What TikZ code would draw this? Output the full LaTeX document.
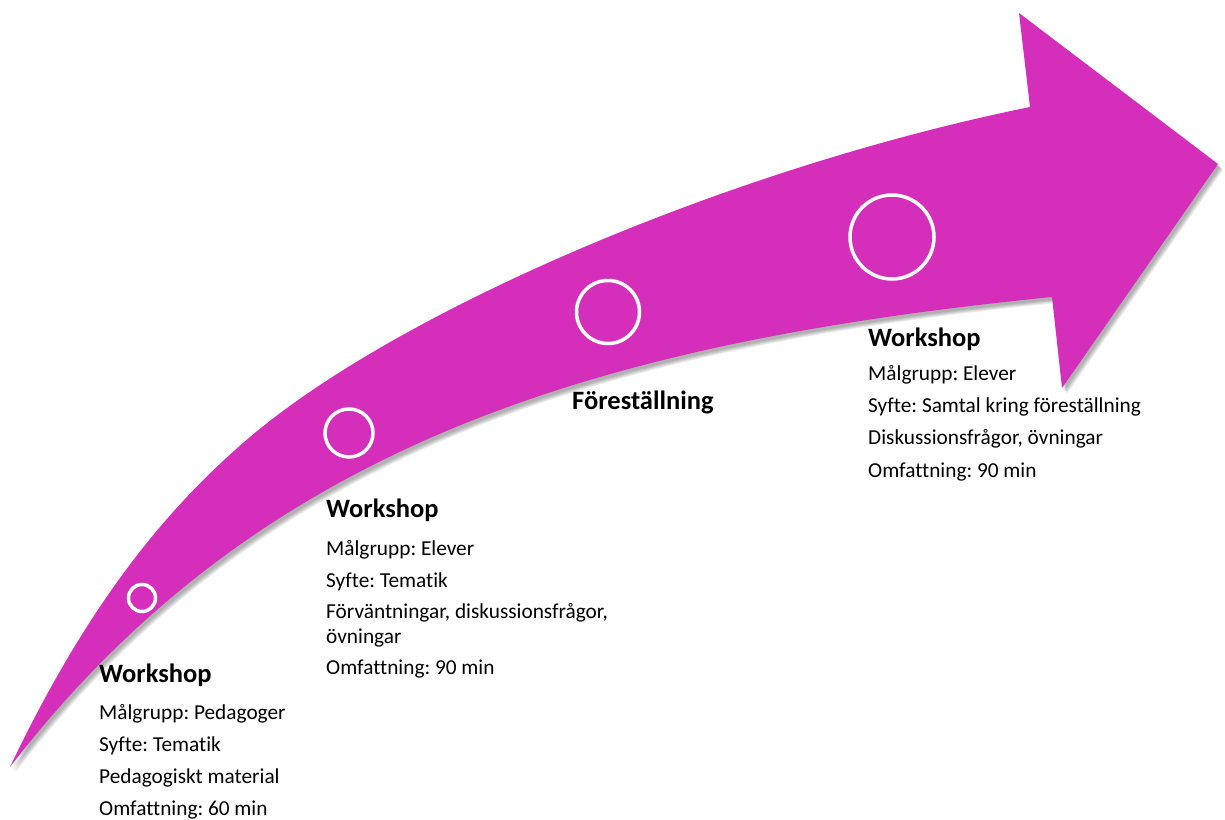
\documentclass[tikz,border=0pt]{standalone}
\usepackage{fontspec}
\setmainfont{Carlito}[Ligatures=NoCommon]
\definecolor{mag}{RGB}{212,46,187}
\frenchspacing
\begin{document}
\begin{tikzpicture}[x=1pt,y=-1pt,
  ring/.style={draw=white,line width=3.5pt},
  ttl/.style={anchor=base west,inner sep=0pt,font=\fontsize{26.5}{30}\selectfont\bfseries},
  txt/.style={anchor=base west,inner sep=0pt,font=\fontsize{21.3}{25}\selectfont}]
\useasboundingbox (0,0) rectangle (1225,819);
\def\arrowpath{(10,767) .. controls (90,599) and (170,505) .. (250,437) .. controls (400,310) and (730,168) .. (1030,107) -- (1019,13) -- (1218,164) -- (1062,388) -- (1052,297) .. controls (602,342) and (260,442) .. (10,767) -- cycle}
% shadow
\foreach \s in {1,2,3,4,5}{
  \fill[black,opacity=0.07,shift={(1.5+0.7*\s,2+0.8*\s)}] \arrowpath;
}
\fill[mag] \arrowpath;
% circles
\draw[ring] (142,598) circle[radius=13.5];
\draw[ring] (349,433) circle[radius=24];
\draw[ring] (608,312) circle[radius=31.5];
\draw[ring] (892,237) circle[radius=42];
% box 1
\node[ttl] (w1t) at (99,682) {Workshop};
\node[txt] (w1a) at (99,719) {Målgrupp: Pedagoger};
\node[txt] (w1b) at (99,751) {Syfte: Tematik};
\node[txt] (w1c) at (99,783) {Pedagogiskt material};
\node[txt] (w1d) at (99,815) {Omfattning: 60 min};
% box 2
\node[ttl] (w2t) at (326,517) {Workshop};
\node[txt] (w2a) at (326,555) {Målgrupp: Elever};
\node[txt] (w2b) at (326,587) {Syfte: Tematik};
\node[txt] (w2c) at (326,618) {Förväntningar, diskussionsfrågor,};
\node[txt] (w2d) at (326,643) {övningar};
\node[txt] (w2e) at (326,674) {Omfattning: 90 min};
% performance
\node[ttl] (fs) at (572,409) {Föreställning};
% box 3
\node[ttl] (w3t) at (868,346) {Workshop};
\node[txt] (w3a) at (868,380) {Målgrupp: Elever};
\node[txt] (w3b) at (868,412) {Syfte: Samtal kring föreställning};
\node[txt] (w3c) at (868,444) {Diskussionsfrågor, övningar};
\node[txt] (w3d) at (868,477) {Omfattning: 90 min};
\end{tikzpicture}
\end{document}
